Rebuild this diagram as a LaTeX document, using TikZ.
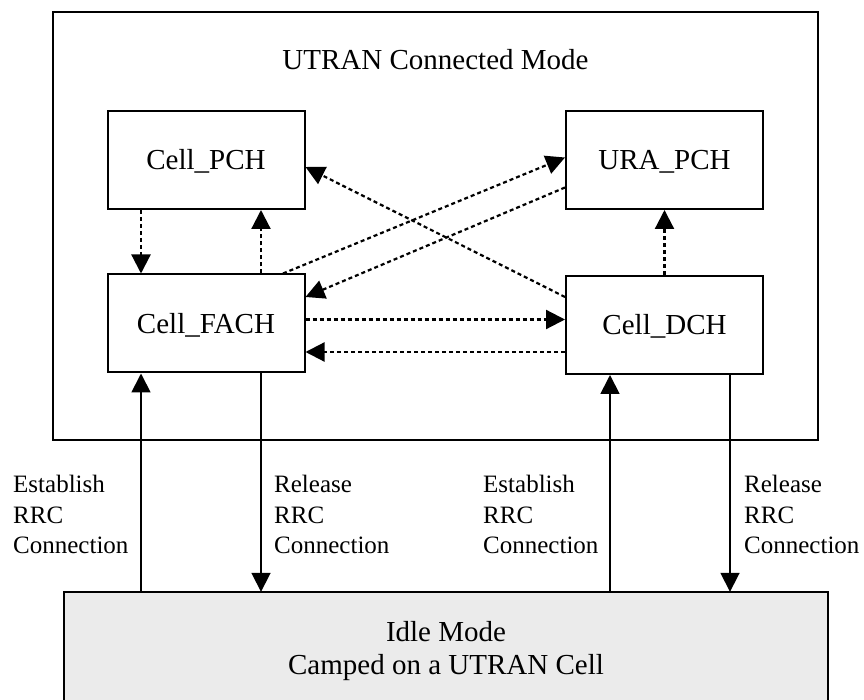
\documentclass[tikz,border=0pt]{standalone}
\usepackage{fontspec}
\setmainfont{Liberation Serif}
\usetikzlibrary{arrows.meta}
\definecolor{idlegray}{HTML}{EBEBEB}
\begin{document}
\begin{tikzpicture}[x=1pt,y=1pt,
  statebox/.style={draw, line width=2pt, minimum width=197pt, minimum height=98pt,
    inner sep=0pt, font=\fontsize{29}{33}\selectfont, text height=20pt, text depth=0pt},
  trans/.style={line width=2.2pt, dash pattern=on 4pt off 3pt,
    -{Triangle[length=19pt,width=19pt]}},
  rrc/.style={line width=1.8pt, -{Triangle[length=19pt,width=19pt]}},
  rrclabel/.style={font=\fontsize{25}{30.5}\selectfont, align=left,
    anchor=north west, inner sep=0pt}]
\useasboundingbox (0,0) rectangle (864,699);
\fill[white] (0,0) rectangle (864,699);

% connected-mode frame and its title
\node[draw, line width=2pt, minimum width=765pt, minimum height=428pt, inner sep=0pt]
  (utran) at (435.5,473) {};
\node[anchor=base, font=\fontsize{29}{33}\selectfont] (title) at (435.5,629)
  {UTRAN Connected Mode};

% RRC states
\node[statebox] (pch)  at (206,539)   {Cell\_PCH};
\node[statebox] (ura)  at (664.5,539) {URA\_PCH};
\node[statebox] (fach) at (206,375.5) {Cell\_FACH};
\node[statebox] (dch)  at (664.5,374) {Cell\_DCH};

% idle mode (runs off the bottom edge)
\node[fill=idlegray, minimum width=764pt, minimum height=112pt, inner sep=0pt]
  (idle) at (446,51) {};
\draw[line width=2pt] (idle.south west) |- (idle.north east) -- (idle.south east);
\node[anchor=north, align=center, inner sep=0pt, font=\fontsize{29}{33}\selectfont]
  (idletxt) at (446,78) {Idle Mode\\Camped on a UTRAN Cell};

% transitions inside the connected mode
\coordinate (p1) at ([xshift=-65pt]pch.south);
\coordinate (f1) at ([xshift=55pt]fach.north);
\draw[trans] (p1) -- (p1 |- fach.north);
\draw[trans] (f1) -- (f1 |- pch.south);
\draw[trans] ([xshift=77pt]fach.north) -- ([yshift=2.5pt]ura.west);
\draw[trans] ([yshift=-27.5pt]ura.west) -- ([yshift=26.5pt]fach.east);
\draw[trans] ([yshift=28pt]dch.west) -- ([yshift=-7pt]pch.east);
\coordinate (h1) at ([yshift=4pt]fach.east);
\coordinate (h2) at ([yshift=-27pt]dch.west);
\draw[trans] (h1) -- (h1 -| dch.west);
\draw[trans] (h2) -- (h2 -| fach.east);
\draw[trans] (dch.north) -- (ura.south);

% RRC connection establishment and release
\coordinate (fa) at ([xshift=-65pt]fach.south);
\coordinate (fb) at ([xshift=55pt]fach.south);
\coordinate (da) at ([xshift=-54.5pt]dch.south);
\coordinate (db) at ([xshift=65.5pt]dch.south);
\draw[rrc] (fa |- idle.north) -- (fa);
\draw[rrc] (fb) -- (fb |- idle.north);
\draw[rrc] (da |- idle.north) -- (da);
\draw[rrc] (db) -- (db |- idle.north);

\node[rrclabel] (est1) at (13,224)  {Establish\\RRC\\Connection};
\node[rrclabel] (rel1) at (274,224) {Release\\RRC\\Connection};
\node[rrclabel] (est2) at (483,224) {Establish\\RRC\\Connection};
\node[rrclabel] (rel2) at (744,224) {Release\\RRC\\Connection};
\end{tikzpicture}
\end{document}
